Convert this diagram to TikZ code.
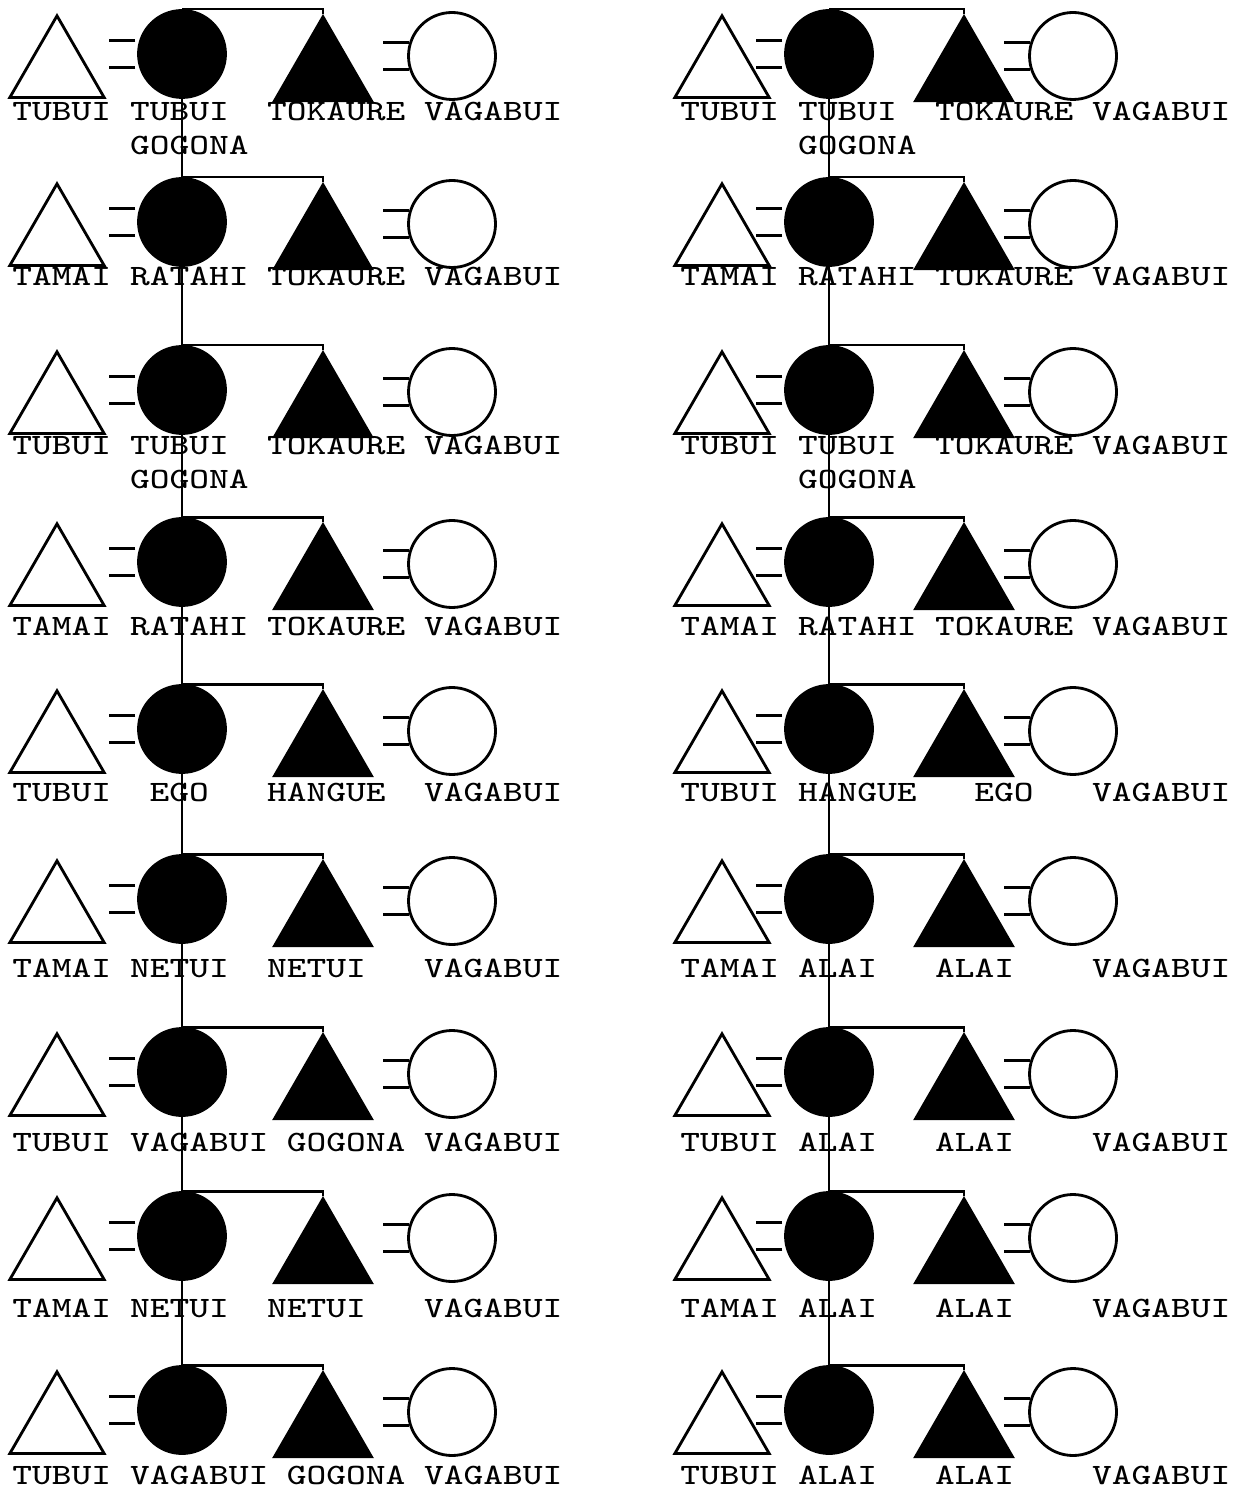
\documentclass[tikz,border=0pt]{standalone}
\usepackage{fontspec}
\setmonofont{Latin Modern Mono}[FakeStretch=1.26]
\usetikzlibrary{shapes.geometric}

\begin{document}
\begin{tikzpicture}[
    x=0.1mm, y=-0.1mm,
    line width=0.8pt,
    font=\ttfamily\fontsize{8.4pt}{10pt}\selectfont,
    male/.style={
        regular polygon,
        regular polygon sides=3,
        minimum size=10.9mm,
        inner sep=0pt,
        anchor=north,
        draw=black
    },
    female/.style={
        circle,
        minimum size=8.7mm,
        inner sep=0pt,
        draw=black
    },
    kin/.style={fill=black},
    kinname/.style={
        anchor=west,
        inner sep=0pt,
        text height=1.8mm,
        text depth=0pt
    }
]
\useasboundingbox (0,0) rectangle (1232,1489);

% Couples, both families
\foreach \c/\xa/\xb/\xc/\xd in {L/57/182/323/452, R/722/829/964/1073} {
  \foreach \r/\yt in {1/10,2/178,3/346,4/518,5/685,6/855,7/1028,8/1192,9/1366} {
    \node[male] (husband\c\r) at (\xa,\yt+3) {};
    \node[female, kin] (sister\c\r) at (\xb,\yt+44) {};
    \node[male, kin, minimum size=11.2mm] (brother\c\r) at (\xc,\yt+4) {};
    \node[female] (wife\c\r) at (\xd,\yt+46) {};
    % marriage signs
    \draw[shorten <=0.4mm] (sister\c\r.162) -- ++(-30,0);
    \draw[shorten <=0.4mm] (sister\c\r.198) -- ++(-30,0);
    \draw (wife\c\r.162) -- ++(-26,0);
    \draw (wife\c\r.198) -- ++(-26,0);
    % sister and brother
    \draw (sister\c\r.north) -| (brother\c\r.north);
  }
}

% Line of descent
\draw (sisterL1.north) -- (sisterL9.north);
\draw (sisterR1.north) -- (sisterR9.north);

% Names, left
\foreach \r/\yl/\la/\lb/\cb/\lc/\cc in {
    1/112/TUBUI/TUBUI/6/TOKAURE/13,
    2/277/TAMAI/RATAHI/6/TOKAURE/13,
    3/446/TUBUI/TUBUI/6/TOKAURE/13,
    4/626/TAMAI/RATAHI/6/TOKAURE/13,
    5/792/TUBUI/EGO/7/HANGUE/13,
    6/968/TAMAI/NETUI/6/NETUI/13,
    7/1142/TUBUI/VAGABUI/6/GOGONA/14,
    8/1308/TAMAI/NETUI/6/NETUI/13,
    9/1475/TUBUI/VAGABUI/6/GOGONA/14} {
  \node[kinname] (nameL\r-a) at (11,\yl) {\la};
  \node[kinname] (nameL\r-b) at (11+\cb*19.6,\yl) {\lb};
  \node[kinname] (nameL\r-c) at (11+\cc*19.6,\yl) {\lc};
  \node[kinname] (nameL\r-d) at (11+21*19.6,\yl) {VAGABUI};
}

% Names, right
\foreach \r/\yl/\la/\lb/\cb/\lc/\cc in {
    1/112/TUBUI/TUBUI/6/TOKAURE/13,
    2/277/TAMAI/RATAHI/6/TOKAURE/13,
    3/446/TUBUI/TUBUI/6/TOKAURE/13,
    4/626/TAMAI/RATAHI/6/TOKAURE/13,
    5/792/TUBUI/HANGUE/6/EGO/15,
    6/968/TAMAI/ALAI/6/ALAI/13,
    7/1142/TUBUI/ALAI/6/ALAI/13,
    8/1308/TAMAI/ALAI/6/ALAI/13,
    9/1475/TUBUI/ALAI/6/ALAI/13} {
  \node[kinname] (nameR\r-a) at (679,\yl) {\la};
  \node[kinname] (nameR\r-b) at (679+\cb*19.6,\yl) {\lb};
  \node[kinname] (nameR\r-c) at (679+\cc*19.6,\yl) {\lc};
  \node[kinname] (nameR\r-d) at (679+21*19.6,\yl) {VAGABUI};
}

% Second lines
\node[kinname] (gogonaL1) at ([yshift=-3.4mm]nameL1-b.west) {GOGONA};
\node[kinname] (gogonaL3) at ([yshift=-3.4mm]nameL3-b.west) {GOGONA};
\node[kinname] (gogonaR1) at ([yshift=-3.4mm]nameR1-b.west) {GOGONA};
\node[kinname] (gogonaR3) at ([yshift=-3.4mm]nameR3-b.west) {GOGONA};

\end{tikzpicture}
\end{document}
